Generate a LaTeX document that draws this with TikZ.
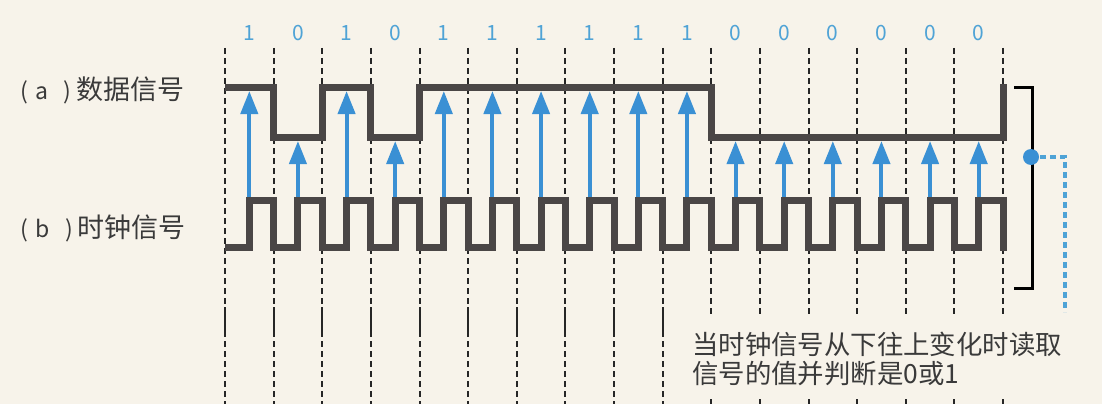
\documentclass[tikz,border=0pt]{standalone}
\usepackage{fontspec}
\setmainfont{Noto Sans CJK SC}
\usetikzlibrary{arrows.meta}
\definecolor{bg}{HTML}{F7F3EA}
\definecolor{sig}{HTML}{4A4646}
\definecolor{arr}{HTML}{3A90D4}
\definecolor{bitc}{HTML}{4FA3D6}
\definecolor{txt}{HTML}{3A3A3A}
\newcommand{\latinpart}[1]{{\fontsize{23}{23}\selectfont(\hspace{8pt}#1\hspace{15pt})}\hspace{5pt}}
\tikzset{
  gridline/.style={black!85, line width=2pt, dash pattern=on 6pt off 4pt},
  gridsolid/.style={black!85, line width=2pt},
  signal/.style={sig, line width=7pt, line join=miter, line cap=butt},
  sample/.style={arr, line width=4pt, -{Triangle[width=17pt,length=23pt]}},
  bitlabel/.style={text=bitc, font=\fontsize{21}{21}\selectfont, inner sep=0pt},
  sidelabel/.style={text=txt, font=\fontsize{27}{27}\selectfont, anchor=west, inner sep=0pt},
  caption/.style={text=txt, font=\fontsize{26.4}{28.5}\selectfont, anchor=north west, align=left, inner sep=0pt},
  bracket/.style={black, line width=3pt, line join=miter},
  leader/.style={bitc, line width=4pt, dash pattern=on 6pt off 4pt}
}
\begin{document}
\begin{tikzpicture}[x=1pt,y=-1pt]
\fill[bg] (0,0) rectangle (1102,404);
\useasboundingbox (0,0) rectangle (1102,404);
% grid lines
\foreach \i in {0,...,16}{
  \pgfmathsetmacro\xx{225+48.625*\i}
  \ifnum\i<10
    \draw[gridline] (\xx,48) -- (\xx,304);
    \draw[gridsolid] (\xx,307) -- (\xx,337);
    \draw[gridline] (\xx,341) -- (\xx,404);
  \else
    \draw[gridline] (\xx,48) -- (\xx,316);
    \draw[gridline] (\xx,399) -- (\xx,404);
  \fi
}
% data signal
\draw[signal] (225,87) -- (273.625,87) -- (273.625,137) -- (322.25,137) -- (322.25,87)
  -- (370.875,87) -- (370.875,137) -- (419.5,137) -- (419.5,87) -- (711.25,87)
  -- (711.25,137) -- (1003,137) -- (1003,84);
% clock signal
\draw[signal] (225,247) \foreach \k in {0,...,15}{
   -- ({225+48.625*\k+24.3},247) -- ({225+48.625*\k+24.3},200)
   -- ({225+48.625*(\k+1)},200) -- ({225+48.625*(\k+1)},247)} -- (1003,251);
% bits and sampling arrows
\foreach \b [count=\i from 0] in {1,0,1,0,1,1,1,1,1,1,0,0,0,0,0,0}{
  \pgfmathsetmacro\xx{225+48.625*(\i+0.5)}
  \node[bitlabel] (bit\i) at (\xx,33) {\b};
  \ifnum\b=1
    \draw[sample] (\xx,197) -- (\xx,91);
  \else
    \draw[sample] (\xx,197) -- (\xx,141);
  \fi
}
% labels
\node[sidelabel] (la) at (20,90) {\latinpart{a}数据信号};
\node[sidelabel] (lb) at (20,228.5) {\latinpart{b}时钟信号};
% bracket and leader
\draw[bracket] (1014,87) -- (1032,87) -- (1032,288) -- (1014,288);
\coordinate (dotc) at (1031,157);
\coordinate (bend) at (1065,157);
\coordinate (lend) at (1065,312);
\fill[arr] (dotc) circle (8);
\draw[leader] (dotc) ++(9,0) -- (bend) -- (lend);
\node[caption] (cap) at (692,332) {当时钟信号从下往上变化时读取\\信号的值并判断是0或1};
\end{tikzpicture}
\end{document}
